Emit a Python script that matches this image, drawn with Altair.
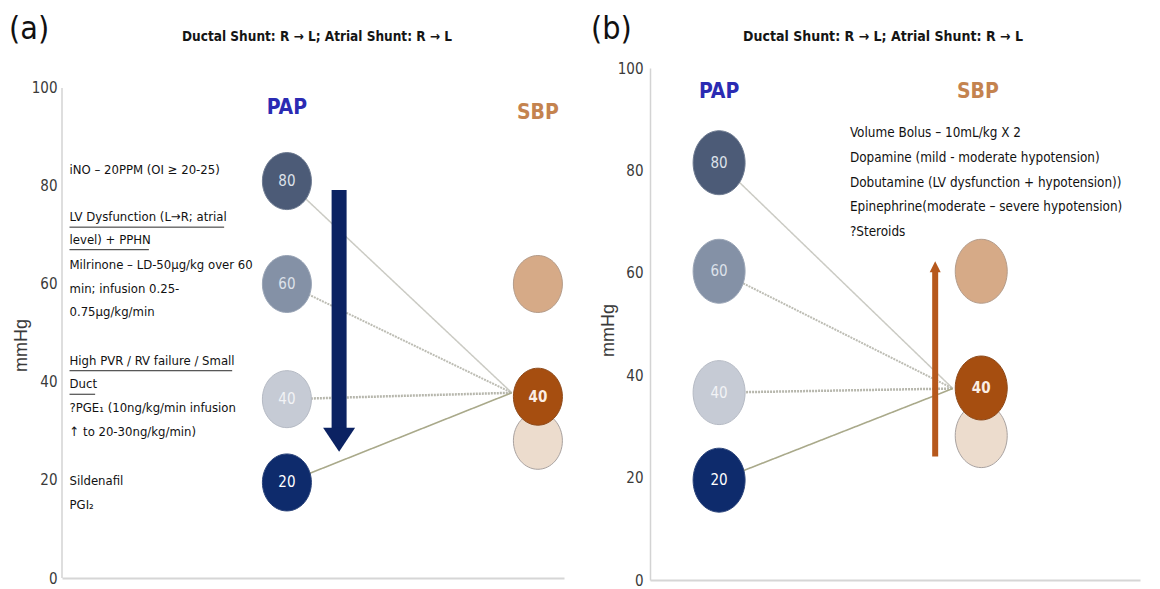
import altair as alt
import pandas as pd

NARROW = "Liberation Sans Narrow, DejaVu Sans Condensed, Roboto Condensed, sans-serif"
SANS = "Liberation Sans, Arial, sans-serif"

# ---------------- data: panel (a) ----------------
a_pap_labels = ["80", "60", "40", "20"]
a_pap_values = [81.0, 60.0, 36.5, 19.5]
a_sbp_labels = ["", "", "40"]
a_sbp_values = [28.0, 60.0, 37.0]
a_treat_lines = [
    "iNO \u2013 20PPM (OI \u2265 20-25)",
    "LV Dysfunction (L\u2192R; atrial",
    "level) + PPHN",
    "Milrinone \u2013 LD-50\u00b5g/kg over 60",
    "min; infusion 0.25-",
    "0.75\u00b5g/kg/min",
    "High PVR / RV failure / Small",
    "Duct",
    "?PGE\u2081 (10ng/kg/min infusion",
    "\u2191 to 20-30ng/kg/min)",
    "Sildenafil",
    "PGI\u2082",
]
a_treat_y = [83.3, 73.6, 69.0, 63.8, 59.0, 54.2, 44.3, 39.5, 34.7, 29.7, 19.8, 14.9]
a_underlined = [1, 2, 6, 7]
a_underline_end = [32.3, 17.3, 33.9, 6.6]

# ---------------- data: panel (b) ----------------
b_pap_labels = ["80", "60", "40", "20"]
b_pap_values = [81.5, 60.3, 36.6, 19.5]
b_sbp_labels = ["", "", "40"]
b_sbp_values = [28.2, 60.3, 37.5]
b_treat_lines = [
    "Volume Bolus \u2013 10mL/kg X 2",
    "Dopamine (mild - moderate hypotension)",
    "Dobutamine (LV dysfunction + hypotension))",
    "Epinephrine(moderate \u2013 severe hypotension)",
    "?Steroids",
]
b_treat_y = [87.4, 82.5, 77.6, 72.8, 67.9]

title_text = "Ductal Shunt: R \u2192 L; Atrial Shunt: R \u2192 L"
y_ticks = [0, 20, 40, 60, 80, 100]
y_axis_extent = [0, 100]

# ---------------- styles ----------------
pap_fill = ["#4c5b77", "#8491a6", "#c6cbd5", "#0e2b6c"]
pap_stroke = ["#6d7a90", "#9aa5b6", "#b5bac4", "#2a437a"]
pap_label_color = ["#dde2ea", "#dde2ea", "#f2f3f6", "#ffffff"]
sbp_fill = ["#ecdccd", "#d6aa87", "#a64e10"]
sbp_stroke = ["#a9a2a0", "#b49c8a", "#8e4a1a"]
line_color = ["#cbcbc4", "#bdbdb4", "#b7b7ad", "#a9a98a"]
line_dash = [[1, 0], [2, 1], [2, 1], [1, 0]]
line_width = [1.5, 2.0, 2.5, 1.6]
AXIS_GREY = "#d3d3d3"


def ellipse_path(a):
    k = 0.5523
    return (f"M1,0C1,{k*a:.3f} {k},{a:.3f} 0,{a:.3f}"
            f"C{-k},{a:.3f} -1,{k*a:.3f} -1,0"
            f"C-1,{-k*a:.3f} {-k},{-a:.3f} 0,{-a:.3f}"
            f"C{k},{-a:.3f} 1,{-k*a:.3f} 1,0Z")


def panel(p):
    xs = alt.Scale(domain=[0, 100], nice=False)
    ys = alt.Scale(domain=[0, p["y_top"]], nice=False)
    xaxis = alt.Axis(title=None, labels=False, ticks=False, grid=False,
                     domainColor="#d6d6d6", domainWidth=2)
    yargs = dict(title="mmHg", values=y_ticks, ticks=False, grid=False,
                 domain=p["axis_domain"],
                 domainColor=AXIS_GREY, domainWidth=1.5,
                 labelFont=NARROW, labelFontSize=15, labelColor="#3a3a3a",
                 labelPadding=p["label_pad"], titleFont=SANS, titleFontSize=18,
                 titleFontWeight="normal", titleColor="#3a3a3a",
                 titlePadding=p["title_pad"], titleY=p["title_y"])
    yaxis = alt.Axis(**yargs)

    def X(f):
        return alt.X(f"{f}:Q", scale=xs, axis=xaxis)

    def Y(f):
        return alt.Y(f"{f}:Q", scale=ys, axis=yaxis)

    layers = []
    if not p["axis_domain"]:
        ax = pd.DataFrame({"x": [0], "y": [y_axis_extent[0]], "y2": [y_axis_extent[1]]})
        layers.append(alt.Chart(ax).mark_rule(color=AXIS_GREY, strokeWidth=1.5).encode(
            x=X("x"), y=Y("y"), y2="y2"))

    # connecting lines PAP -> SBP
    for i in range(len(p["pap_values"])):
        df = pd.DataFrame({"x": [p["pap_x"]], "y": [p["pap_values"][i]],
                           "x2": [p["conv"][0]], "y2": [p["conv"][1]]})
        layers.append(alt.Chart(df).mark_rule(
            color=line_color[i], strokeWidth=line_width[i],
            strokeDash=line_dash[i]).encode(
            x=X("x"), y=Y("y"), x2="x2", y2="y2"))

    # arrow
    ar = p["arrow"]
    shaft = pd.DataFrame({"x": [ar["x"]], "y": [ar["y1"]], "y2": [ar["y2"]]})
    layers.append(alt.Chart(shaft).mark_rule(
        color=ar["color"], strokeWidth=ar["w"], strokeCap="butt").encode(
        x=X("x"), y=Y("y"), y2="y2"))
    head = pd.DataFrame({"x": [ar["x"]], "y": [ar["head_y"]]})
    layers.append(alt.Chart(head).mark_point(
        shape=ar["head_shape"], size=ar["head_size"], filled=True, opacity=1,
        color=ar["color"]).encode(x=X("x"), y=Y("y")))

    ell = ellipse_path(p["ell"])
    # SBP circles
    sbp = pd.DataFrame({"x": [p["sbp_x"]] * 3, "y": p["sbp_values"],
                        "fill": sbp_fill, "stroke": sbp_stroke,
                        "label": p["sbp_labels"]})
    layers.append(alt.Chart(sbp).mark_point(
        shape=ell, size=p["csize"], filled=True, opacity=1, strokeWidth=1,
        strokeOpacity=1).encode(
        x=X("x"), y=Y("y"), fill=alt.Fill("fill:N", scale=None),
        stroke=alt.Stroke("stroke:N", scale=None)))
    layers.append(alt.Chart(sbp).mark_text(
        font=NARROW, fontSize=15, fontWeight="bold", color="#fbeee4").encode(
        x=X("x"), y=Y("y"), text="label:N"))

    # PAP circles
    pap = pd.DataFrame({"x": [p["pap_x"]] * 4, "y": p["pap_values"],
                        "fill": pap_fill, "stroke": pap_stroke,
                        "label": p["pap_labels"], "lc": pap_label_color})
    layers.append(alt.Chart(pap).mark_point(
        shape=ell, size=p["csize"], filled=True, opacity=1, strokeWidth=1,
        strokeOpacity=1).encode(
        x=X("x"), y=Y("y"), fill=alt.Fill("fill:N", scale=None),
        stroke=alt.Stroke("stroke:N", scale=None)))
    layers.append(alt.Chart(pap).mark_text(font=NARROW, fontSize=15).encode(
        x=X("x"), y=Y("y"), text="label:N",
        color=alt.Color("lc:N", scale=None)))

    # PAP / SBP headings
    heads = pd.DataFrame({"x": [p["pap_lab"][0], p["sbp_lab"][0]],
                          "y": [p["pap_lab"][1], p["sbp_lab"][1]],
                          "t": ["PAP", "SBP"], "c": ["#2b2bb3", "#c4834f"]})
    layers.append(alt.Chart(heads).mark_text(
        font=NARROW, fontSize=21, fontWeight="bold").encode(
        x=X("x"), y=Y("y"), text="t:N", color=alt.Color("c:N", scale=None)))

    # treatment text
    tx = pd.DataFrame({"x": [p["text_x"]] * len(p["lines"]), "y": p["lines_y"],
                       "t": p["lines"]})
    layers.append(alt.Chart(tx).mark_text(
        font=NARROW, fontSize=p["text_size"], align="left", baseline="middle",
        color="#111111").encode(x=X("x"), y=Y("y"), text="t:N"))

    if p.get("underlined"):
        ul = pd.DataFrame({
            "x": [p["text_x"]] * len(p["underlined"]),
            "x2": p["underline_end"],
            "y": [p["lines_y"][i] - p["ul_drop"] for i in p["underlined"]]})
        layers.append(alt.Chart(ul).mark_rule(color="#2a2a2a", strokeWidth=1).encode(
            x=X("x"), x2="x2", y=Y("y")))

    # panel letter and heading
    hd = pd.DataFrame({"t": [p["letter"]]})
    layers.append(alt.Chart(hd).mark_text(
        font=NARROW, fontSize=32, align="left", baseline="middle",
        color="#111111").encode(
        x=alt.value(p["letter_pos"][0]), y=alt.value(p["letter_pos"][1]),
        text="t:N"))
    tt = pd.DataFrame({"t": [title_text]})
    layers.append(alt.Chart(tt).mark_text(
        font=NARROW, fontSize=p["title_size"], fontWeight="bold", align="center",
        baseline="middle", color="#151515").encode(
        x=alt.value(p["title_pos"][0]), y=alt.value(p["title_pos"][1]),
        text="t:N"))

    return alt.layer(*layers).properties(width=p["w"], height=p["h"])


pa = dict(
    w=502, h=510, y_top=104.08, axis_domain=False,
    pap_x=44.8, sbp_x=94.8, conv=(89.6, 37.8),
    pap_values=a_pap_values, pap_labels=a_pap_labels,
    sbp_values=a_sbp_values, sbp_labels=a_sbp_labels,
    arrow=dict(x=55.2, y1=79.2, y2=30.6, head_y=28.2, w=15, color="#0b2262",
               head_shape="M-1,-0.75L1,-0.75L0,0.75Z", head_size=1024),
    ell=1.163, csize=2401,
    pap_lab=(44.8, 95.9), sbp_lab=(94.8, 94.9),
    text_x=1.5, lines=a_treat_lines, lines_y=a_treat_y, text_size=13,
    underlined=a_underlined, underline_end=a_underline_end, ul_drop=2.0,
    letter="(a)", letter_pos=(-53, -39), title_pos=(255, -31), title_size=13.5,
    label_pad=5, title_pad=1, title_y=277,
)

pb = dict(
    w=490, h=512, y_top=100, axis_domain=True,
    pap_x=14.1, sbp_x=67.6, conv=(61.8, 37.4),
    pap_values=b_pap_values, pap_labels=b_pap_labels,
    sbp_values=b_sbp_values, sbp_labels=b_sbp_labels,
    arrow=dict(x=58.2, y1=24.1, y2=61.0, head_y=61.2, w=6, color="#b6581c",
               head_shape="M-1,1L1,1L0,-1Z", head_size=121),
    ell=1.23, csize=2704,
    pap_lab=(14.1, 95.3), sbp_lab=(66.9, 95.3),
    text_x=40.8, lines=b_treat_lines, lines_y=b_treat_y, text_size=13.4,
    letter="(b)", letter_pos=(-59, -39), title_pos=(233, -31), title_size=14,
    label_pad=7, title_pad=0, title_y=262,
)

chart = alt.hconcat(panel(pa), panel(pb), spacing=26).configure_view(
    stroke=None).properties(
    background="white", padding={"left": 1, "top": 5, "right": 5, "bottom": 0})

chart.save("out.html", embed_options={"renderer": "svg", "actions": False})
